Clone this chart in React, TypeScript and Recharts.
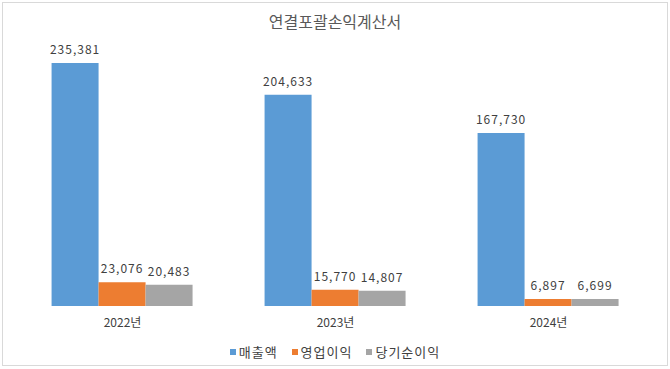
import React from "react";
import { BarChart, Bar, XAxis, YAxis, LabelList } from "recharts";

const years = ["2022년", "2023년", "2024년"];
const sales = [235381, 204633, 167730];
const operatingIncome = [23076, 15770, 6897];
const netIncome = [20483, 14807, 6699];

const seriesNames = ["매출액", "영업이익", "당기순이익"];
const colors = ["#5B9BD5", "#ED7D31", "#A5A5A5"];

const data = years.map((y, i) => ({
  year: y,
  sales: sales[i],
  op: operatingIncome[i],
  net: netIncome[i],
}));

const FONT = "'Noto Sans CJK KR', 'Noto Sans', sans-serif";

const fmt = (v: any) => Number(v).toLocaleString("en-US");

function LegendBox() {
  return (
    <div
      style={{
        position: "absolute",
        top: 342,
        width: 670,
        display: "flex",
        justifyContent: "center",
        gap: 14,
        fontFamily: FONT,
        fontSize: 13,
        letterSpacing: 1,
        color: "#404040",
      }}
    >
      {seriesNames.map((name, i) => (
        <div key={name} style={{ display: "flex", alignItems: "center" }}>
          <span
            style={{
              display: "inline-block",
              width: 6,
              height: 6,
              background: colors[i],
              marginRight: 3,
            }}
          />
          <span>{name}</span>
        </div>
      ))}
    </div>
  );
}

const labelProps = {
  position: "top" as const,
  offset: 9,
  formatter: fmt,
  fill: "#404040",
  fontSize: 12,
  fontFamily: FONT,
  style: { letterSpacing: 1 },
};

export default function App() {
  return (
    <div style={{ position: "relative", width: 670, height: 369, background: "#fff" }}>
      <style>{`body{margin:0}`}</style>
      <div
        style={{
          position: "absolute",
          left: 2,
          top: 2,
          width: 664,
          height: 362,
          border: "1px solid #d9d9d9",
        }}
      />
      <div
        style={{
          position: "absolute",
          top: 9,
          width: 670,
          textAlign: "center",
          fontFamily: FONT,
          fontSize: 16,
          color: "#595959",
        }}
      >
        연결포괄손익계산서
      </div>
      <div style={{ position: "absolute", left: 0, top: 0 }}>
        <BarChart
          width={670}
          height={369}
          data={data}
          margin={{ top: 48, right: 15, left: 16, bottom: 33 }}
          barCategoryGap="16.7%"
          barGap={0}
        >
          <XAxis
            dataKey="year"
            axisLine={false}
            tickLine={false}
            height={30}
            tick={{ fill: "#404040", fontSize: 12, fontFamily: FONT }}
            tickMargin={6}
          />
          <YAxis hide domain={[0, 250000]} />
          <Bar dataKey="sales" name={seriesNames[0]} fill={colors[0]} isAnimationActive={false}>
            <LabelList dataKey="sales" {...labelProps} />
          </Bar>
          <Bar dataKey="op" name={seriesNames[1]} fill={colors[1]} isAnimationActive={false}>
            <LabelList dataKey="op" {...labelProps} />
          </Bar>
          <Bar dataKey="net" name={seriesNames[2]} fill={colors[2]} isAnimationActive={false}>
            <LabelList dataKey="net" {...labelProps} />
          </Bar>
        </BarChart>
      </div>
      <LegendBox />
    </div>
  );
}
